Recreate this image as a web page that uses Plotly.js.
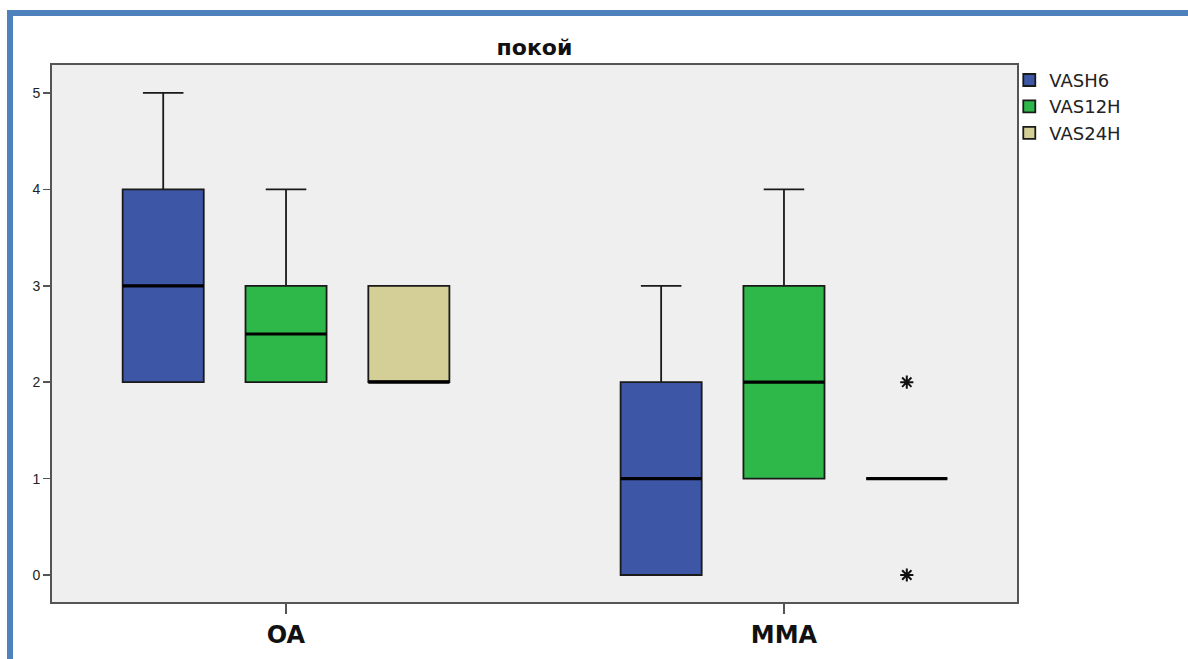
<!DOCTYPE html>
<html><head><meta charset="utf-8">
<script src="https://cdn.plot.ly/plotly-3.0.1.min.js"></script>
<style>
html,body{margin:0;padding:0;background:#fff;}
#wrap{position:relative;width:1188px;height:659px;overflow:hidden;}
#frame{position:absolute;left:7px;top:10px;width:1181px;height:649px;border-top:6px solid #4f81bd;border-left:6px solid #4f81bd;box-sizing:border-box;pointer-events:none;z-index:5;}
#chart{position:absolute;left:0;top:0;width:1188px;height:659px;}
</style></head>
<body><div id="wrap"><div id="chart"></div><div id="frame"></div></div>
<script>
const categories = ['OA', 'MMA'];
const seriesNames = ['VASH6', 'VAS12H', 'VAS24H'];
const colors = ['#3d56a6', '#2eb84a', '#d3cf97'];

// per series: [OA, MMA]
const lowerfence = [[2, 0], [2, 1], [2, 1]];
const q1         = [[2, 0], [2, 1], [2, 1]];
const median     = [[3, 1], [2.5, 2], [2, 1]];
const q3         = [[4, 2], [3, 3], [3, 1]];
const upperfence = [[5, 3], [4, 4], [3, 1]];
// sample points per box (only extremes outside the fences are drawn)
const samples    = [[[2, 5], [0, 3]], [[2, 4], [1, 4]], [[2, 3], [0, 1, 2]]];

const font = 'Liberation Sans, Arial, sans-serif';
const boldFont = 'DejaVu Sans, Liberation Sans, sans-serif';

const traces = [];
seriesNames.forEach((name, i) => {
  traces.push({
    type: 'box',
    name: name,
    x: categories,
    y: samples[i],
    lowerfence: lowerfence[i],
    q1: q1[i],
    median: median[i],
    q3: q3[i],
    upperfence: upperfence[i],
    offsetgroup: 'g' + i,
    fillcolor: colors[i],
    line: {color: '#1a1a1a', width: 1.8},
    whiskerwidth: 0.5,
    boxpoints: 'outliers',
    jitter: 0,
    pointpos: 0,
    marker: {symbol: 'asterisk-open', size: 11, color: '#111', line: {color: '#111', width: 2}},
    hoverinfo: 'y'
  });
});
// thicker median lines drawn on top
seriesNames.forEach((name, i) => {
  traces.push({
    type: 'box',
    name: name + ' median',
    showlegend: false,
    x: categories,
    lowerfence: median[i],
    q1: median[i],
    median: median[i],
    q3: median[i],
    upperfence: median[i],
    offsetgroup: 'g' + i,
    fillcolor: 'rgba(0,0,0,0)',
    line: {color: '#000', width: 3.2},
    whiskerwidth: 0,
    boxpoints: false,
    hoverinfo: 'skip'
  });
});

const layout = {
  width: 1188, height: 659,
  margin: {l: 52, r: 171, t: 65, b: 57},
  paper_bgcolor: '#ffffff',
  plot_bgcolor: '#efefef',
  boxmode: 'group',
  boxgap: 0.26,
  boxgroupgap: 0.34,
  font: {family: font, color: '#222'},
  title: {text: 'покой', x: 0.5, xref: 'paper', y: 1 - 47 / 659, yref: 'container', yanchor: 'middle',
          font: {family: boldFont, size: 22, weight: 'bold', color: '#111'}},
  xaxis: {
    type: 'category', range: [-0.47, 1.468],
    showline: true, mirror: true, linecolor: '#555', linewidth: 2,
    ticks: 'outside', ticklen: 10, tickwidth: 2, tickcolor: '#555',
    showgrid: false, zeroline: false,
    tickfont: {family: boldFont, size: 24, weight: 'bold', color: '#111'}
  },
  yaxis: {
    range: [-0.28, 5.29], tickvals: [0, 1, 2, 3, 4, 5],
    showline: true, mirror: true, linecolor: '#555', linewidth: 2,
    ticks: 'outside', ticklen: 7, tickwidth: 1.5, tickcolor: '#555',
    showgrid: false, zeroline: false,
    tickfont: {family: font, size: 14, color: '#222'}
  },
  showlegend: true,
  legend: {
    x: 0.992, xanchor: 'left', y: 1.006, yanchor: 'top',
    bgcolor: 'rgba(0,0,0,0)', borderwidth: 0,
    font: {family: 'DejaVu Sans, sans-serif', size: 18, color: '#222'},
    tracegroupgap: 0, itemwidth: 30
  }
};

Plotly.newPlot('chart', traces, layout, {displayModeBar: false, staticPlot: true});
</script></body></html>
